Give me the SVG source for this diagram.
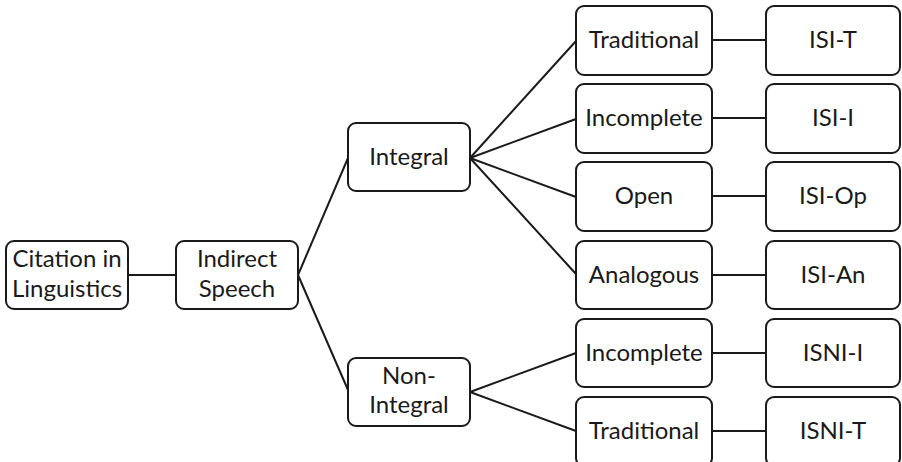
<svg xmlns="http://www.w3.org/2000/svg" width="902" height="462" viewBox="0 0 902 462">
<style>
.box{fill:#fff;stroke:#1a1a1a;stroke-width:2}
.t{font-family:Lato,"Liberation Sans",sans-serif;font-size:24px;fill:#1a1a1a;text-anchor:middle}
.c{stroke:#1a1a1a;stroke-width:2;fill:none}
</style>
<rect width="902" height="462" fill="#fff"/>
<g id="connectors" class="c">
<line x1="128" y1="275" x2="176" y2="275"/>
<line x1="298" y1="275" x2="348" y2="158"/>
<line x1="298" y1="275" x2="348" y2="390"/>
<line x1="470" y1="158" x2="576" y2="41"/>
<line x1="470" y1="158" x2="576" y2="119"/>
<line x1="470" y1="158" x2="576" y2="197"/>
<line x1="470" y1="158" x2="576" y2="274"/>
<line x1="470" y1="392" x2="576" y2="353"/>
<line x1="470" y1="392" x2="576" y2="431"/>
<line x1="712" y1="40" x2="766" y2="40"/>
<line x1="712" y1="118" x2="766" y2="118"/>
<line x1="712" y1="196" x2="766" y2="196"/>
<line x1="712" y1="275" x2="766" y2="275"/>
<line x1="712" y1="353" x2="766" y2="353"/>
<line x1="712" y1="431" x2="766" y2="431"/>
</g>
<g id="citation"><rect class="box" x="6" y="241" width="122" height="68" rx="8"/><text class="t" x="67" y="267">Citation in</text><text class="t" x="67" y="297">Linguistics</text></g>
<g id="indirect"><rect class="box" x="176" y="241" width="122" height="68" rx="8"/><text class="t" x="237" y="267">Indirect</text><text class="t" x="237" y="297">Speech</text></g>
<g id="integral"><rect class="box" x="348" y="123" width="122" height="68" rx="8"/><text class="t" x="409" y="165">Integral</text></g>
<g id="nonintegral"><rect class="box" x="348" y="358" width="122" height="68" rx="8"/><text class="t" x="409" y="384">Non-</text><text class="t" x="409" y="413">Integral</text></g>
<g id="traditional1"><rect class="box" x="576" y="6" width="136" height="69" rx="8"/><text class="t" x="644" y="48">Traditional</text></g>
<g id="incomplete1"><rect class="box" x="576" y="84" width="136" height="69" rx="8"/><text class="t" x="644" y="126">Incomplete</text></g>
<g id="open"><rect class="box" x="576" y="162" width="136" height="69" rx="8"/><text class="t" x="644" y="204">Open</text></g>
<g id="analogous"><rect class="box" x="576" y="241" width="136" height="68" rx="8"/><text class="t" x="644" y="283">Analogous</text></g>
<g id="incomplete2"><rect class="box" x="576" y="319" width="136" height="68" rx="8"/><text class="t" x="644" y="361">Incomplete</text></g>
<g id="traditional2"><rect class="box" x="576" y="397" width="136" height="69" rx="8"/><text class="t" x="644" y="439">Traditional</text></g>
<g id="isi-t"><rect class="box" x="766" y="6" width="134" height="69" rx="8"/><text class="t" x="833" y="48">ISI-T</text></g>
<g id="isi-i"><rect class="box" x="766" y="84" width="134" height="69" rx="8"/><text class="t" x="833" y="126">ISI-I</text></g>
<g id="isi-op"><rect class="box" x="766" y="162" width="134" height="69" rx="8"/><text class="t" x="833" y="204">ISI-Op</text></g>
<g id="isi-an"><rect class="box" x="766" y="241" width="134" height="68" rx="8"/><text class="t" x="833" y="283">ISI-An</text></g>
<g id="isni-i"><rect class="box" x="766" y="319" width="134" height="68" rx="8"/><text class="t" x="833" y="361">ISNI-I</text></g>
<g id="isni-t"><rect class="box" x="766" y="397" width="134" height="69" rx="8"/><text class="t" x="833" y="439">ISNI-T</text></g>
</svg>
